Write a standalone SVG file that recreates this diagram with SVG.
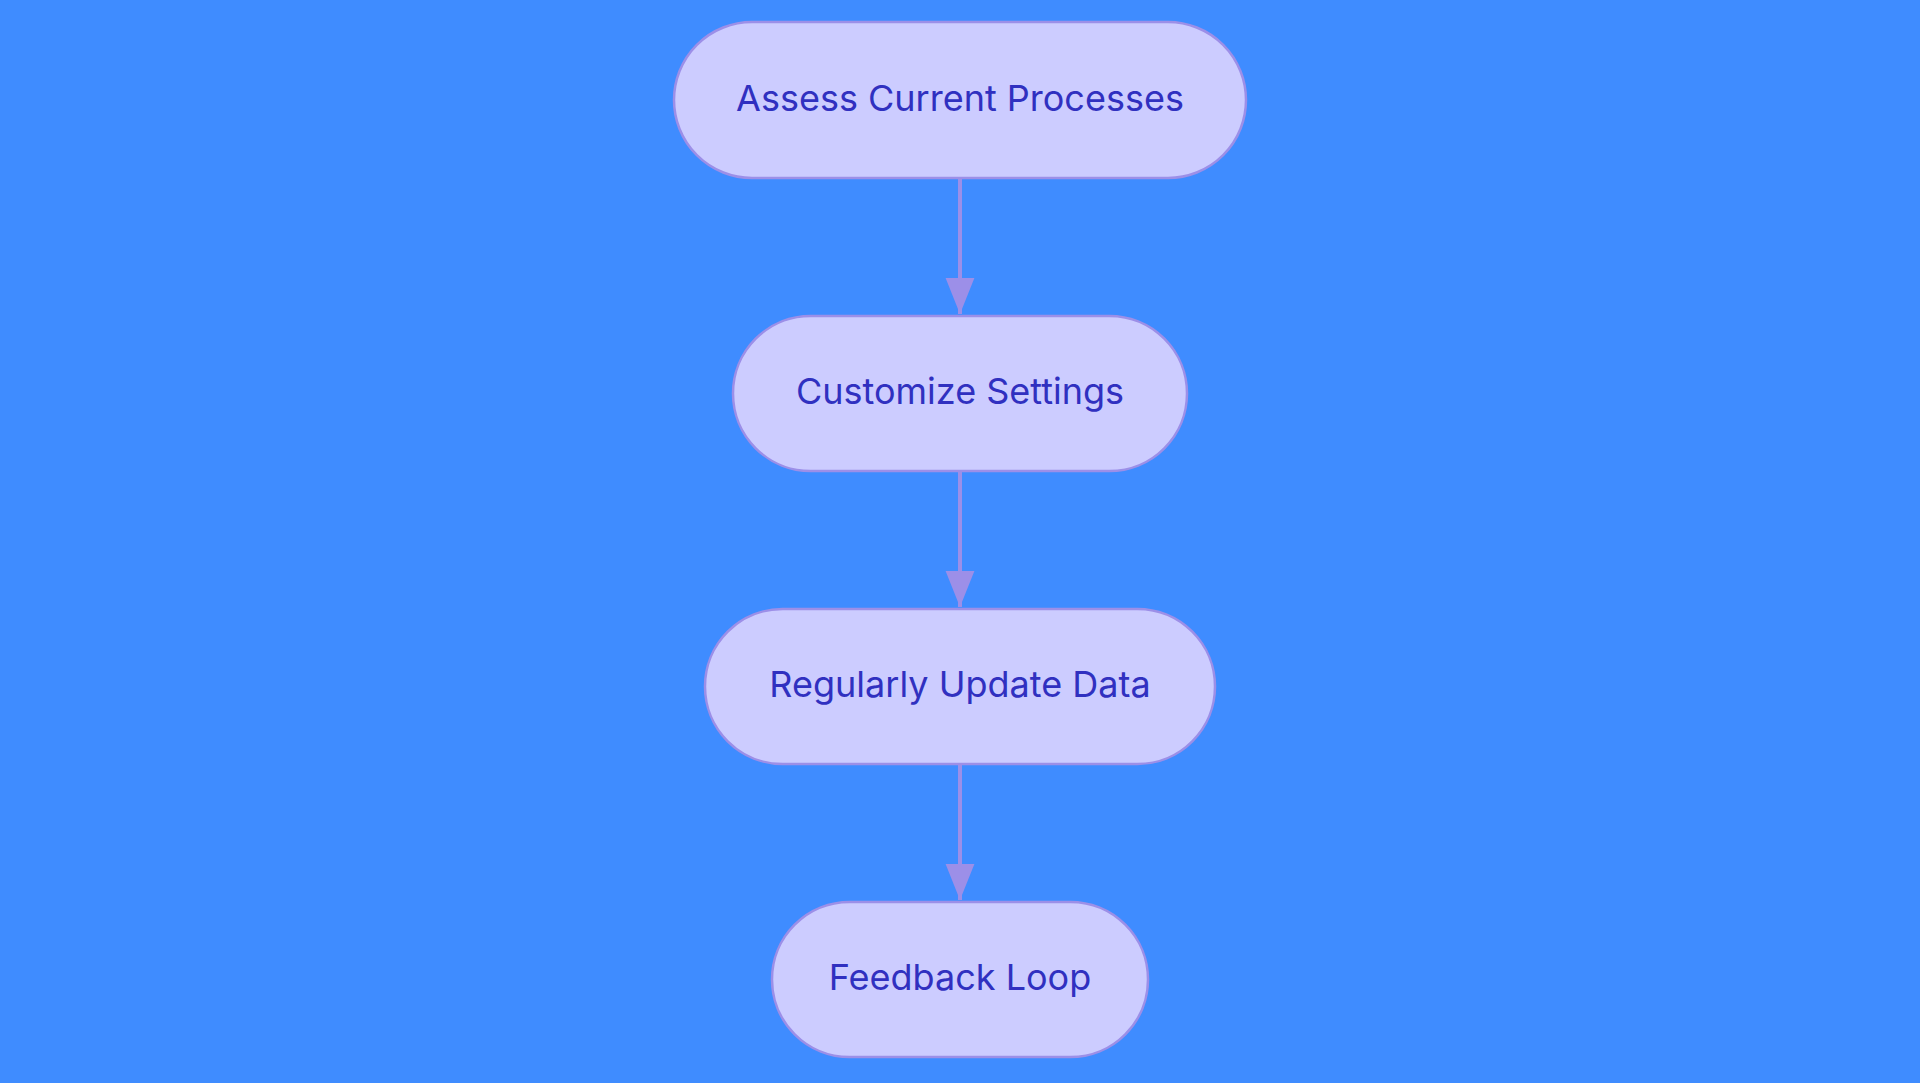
<svg xmlns="http://www.w3.org/2000/svg" width="1920" height="1083" viewBox="0 0 1920 1083">
<defs>
<style>
.n{fill:#ccccff;stroke:#9c8fe8;stroke-width:2.5}
.t{font-family:Inter,"Noto Sans",sans-serif;font-size:36px;fill:#3030c0;text-anchor:middle;dominant-baseline:central}
.c{stroke:#9c8fe8;stroke-width:4;fill:none;marker-end:url(#a)}
</style>
<marker id="a" markerWidth="9" markerHeight="9" refX="8" refY="4.5" orient="auto" markerUnits="userSpaceOnUse" viewBox="0 0 9 9"><path d="M0,0L9,4.5L0,9Z" fill="#9c8fe8"/></marker>
<marker id="b" viewBox="0 0 10 10" refX="10" refY="5" markerWidth="36" markerHeight="36" markerUnits="userSpaceOnUse" orient="auto"><path d="M0,1L10,5L0,9Z" fill="#9c8fe8"/></marker>
</defs>
<rect width="1920" height="1083" fill="#3f8cff"/>
<g id="connectors">
<path d="M960 178V314" stroke="#9c8fe8" stroke-width="4" marker-end="url(#b)"/>
<path d="M960 471V607" stroke="#9c8fe8" stroke-width="4" marker-end="url(#b)"/>
<path d="M960 764V900" stroke="#9c8fe8" stroke-width="4" marker-end="url(#b)"/>
</g>
<g id="n1"><rect class="n" x="674" y="22" width="572" height="156" rx="78"/><text class="t" x="960" y="98">Assess Current Processes</text></g>
<g id="n2"><rect class="n" x="733" y="316" width="454" height="155" rx="77.5"/><text class="t" x="960" y="391">Customize Settings</text></g>
<g id="n3"><rect class="n" x="705" y="609" width="510" height="155" rx="77.5"/><text class="t" x="960" y="684">Regularly Update Data</text></g>
<g id="n4"><rect class="n" x="772" y="902" width="376" height="155" rx="77.5"/><text class="t" x="960" y="977">Feedback Loop</text></g>
</svg>
